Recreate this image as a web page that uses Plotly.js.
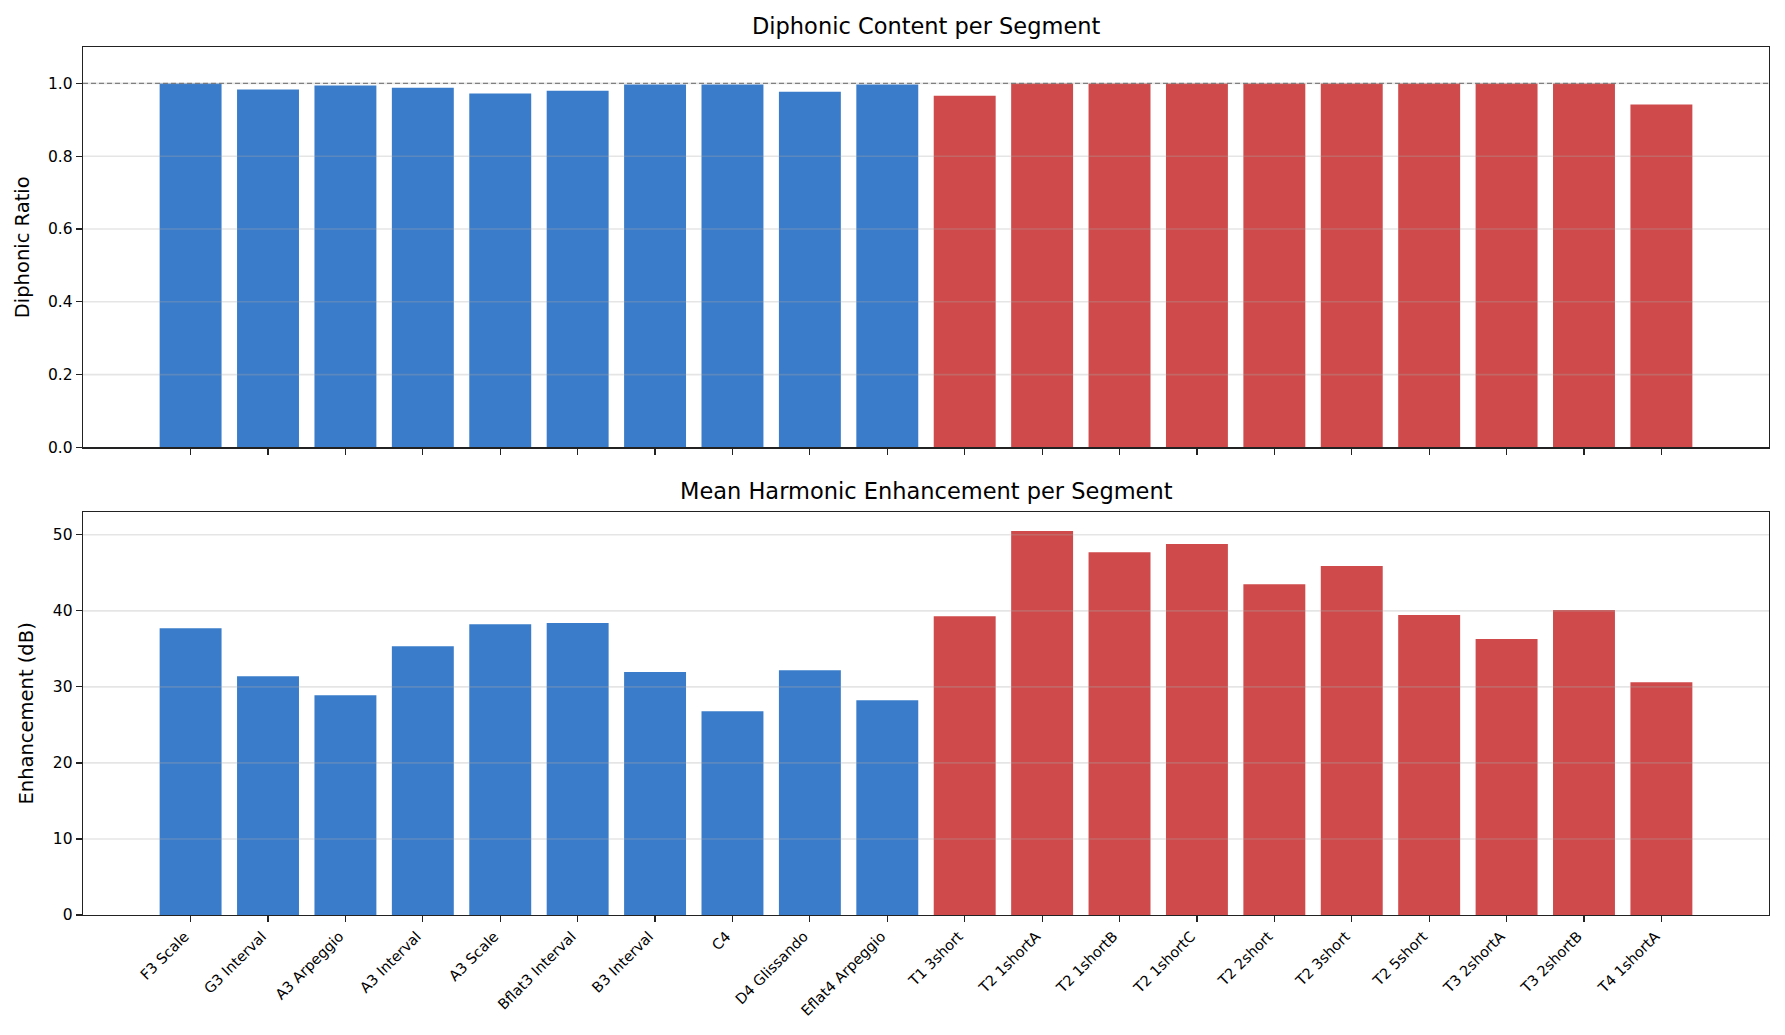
<!DOCTYPE html>
<html>
<head>
<meta charset="utf-8">
<script src="https://cdn.plot.ly/plotly-3.0.1.min.js"></script>
<style>html,body{margin:0;padding:0;background:#fff;}#chart{width:1785px;height:1035px;}</style>
</head>
<body>
<div id="chart"></div>
<script>
const segments = ["F3 Scale","G3 Interval","A3 Arpeggio","A3 Interval","A3 Scale","Bflat3 Interval","B3 Interval","C4","D4 Glissando","Eflat4 Arpeggio","T1 3short","T2 1shortA","T2 1shortB","T2 1shortC","T2 2short","T2 3short","T2 5short","T3 2shortA","T3 2shortB","T4 1shortA"];
const groups = ["A","A","A","A","A","A","A","A","A","A","B","B","B","B","B","B","B","B","B","B"];
const diphonicRatio = [1.0,0.983,0.994,0.988,0.972,0.980,0.997,0.997,0.977,0.997,0.966,1.0,1.0,1.0,1.0,1.0,1.0,1.0,1.0,0.942];
const enhancementDb = [37.7,31.4,28.9,35.35,38.25,38.4,31.95,26.8,32.2,28.25,39.3,50.5,47.7,48.8,43.5,45.9,39.45,36.3,40.1,30.6];
const ratioTicks = [0,0.2,0.4,0.6,0.8,1.0];
const ratioTickText = ["0.0","0.2","0.4","0.6","0.8","1.0"];
const dbTicks = [0,10,20,30,40,50];
const ratioRef = 1.0;

const groupColor = {A:"#3a7cc9", B:"#cf4a4a"};
const colors = groups.map(g => groupColor[g]);
const font = "DejaVu Sans, sans-serif";

const traces = [
  {type:"bar", x:segments, y:diphonicRatio, xaxis:"x", yaxis:"y", width:0.8,
   marker:{color:colors, line:{width:0}}, hoverinfo:"x+y", showlegend:false},
  {type:"bar", x:segments, y:enhancementDb, xaxis:"x2", yaxis:"y2", width:0.8,
   marker:{color:colors, line:{width:0}}, hoverinfo:"x+y", showlegend:false}
];

const xr = [-1.39, segments.length - 1 + 1.39];
const axisCommon = {showline:true, linecolor:"#222", linewidth:1.3, mirror:true,
  ticks:"outside", ticklen:6, tickwidth:1.2, tickcolor:"#222", zeroline:false,
  tickfont:{family:font, size:15.5, color:"#000"}};

const shapes = [];
ratioTicks.filter(v => v > 0).forEach(v => shapes.push({type:"line", xref:"x domain", yref:"y", x0:0, x1:1, y0:v, y1:v, layer:"above", line:{color:"rgba(170,170,170,0.3)", width:1.6}}));
dbTicks.filter(v => v > 0).forEach(v => shapes.push({type:"line", xref:"x2 domain", yref:"y2", x0:0, x1:1, y0:v, y1:v, layer:"above", line:{color:"rgba(170,170,170,0.3)", width:1.6}}));
shapes.push({type:"line", xref:"x domain", yref:"y", x0:0, x1:1, y0:ratioRef, y1:ratioRef, layer:"above", line:{color:"rgba(110,110,110,0.85)", width:1.3, dash:"5px,3px"}});

const layout = {
  width:1785, height:1035,
  margin:{l:83, r:16, t:47, b:120},
  paper_bgcolor:"#fff", plot_bgcolor:"#fff",
  bargap:0.2,
  font:{family:font, color:"#000"},
  xaxis:Object.assign({}, axisCommon, {domain:[0,1], anchor:"y", type:"category", range:xr, showticklabels:false, showgrid:false}),
  yaxis:Object.assign({}, axisCommon, {domain:[0.5387,1], anchor:"x", range:[0,1.1], tickvals:ratioTicks, ticktext:ratioTickText, showgrid:false}),
  xaxis2:Object.assign({}, axisCommon, {domain:[0,1], anchor:"y2", type:"category", range:xr, tickangle:-45, ticklabelshift:-6, showgrid:false, tickfont:{family:font, size:14.5, color:"#000"}}),
  yaxis2:Object.assign({}, axisCommon, {domain:[0,0.4643], anchor:"x2", range:[0,53.0], tickvals:dbTicks, showgrid:false}),
  shapes:shapes,
  annotations:[
    {text:"Diphonic Content per Segment", xref:"x domain", yref:"y domain", x:0.5, y:1, xanchor:"center", yanchor:"bottom", yshift:6, showarrow:false, font:{family:font, size:22.5, color:"#000"}},
    {text:"Mean Harmonic Enhancement per Segment", xref:"x2 domain", yref:"y2 domain", x:0.5, y:1, xanchor:"center", yanchor:"bottom", yshift:6, showarrow:false, font:{family:font, size:22.5, color:"#000"}},
    {text:"Diphonic Ratio", xref:"paper", yref:"y domain", x:0, y:0.5, xanchor:"center", yanchor:"middle", xshift:-61, textangle:-90, showarrow:false, font:{family:font, size:19.5, color:"#000"}},
    {text:"Enhancement (dB)", xref:"paper", yref:"y2 domain", x:0, y:0.5, xanchor:"center", yanchor:"middle", xshift:-57, textangle:-90, showarrow:false, font:{family:font, size:19.5, color:"#000"}}
  ]
};

Plotly.newPlot("chart", traces, layout, {displayModeBar:false, staticPlot:true});
</script>
</body>
</html>
